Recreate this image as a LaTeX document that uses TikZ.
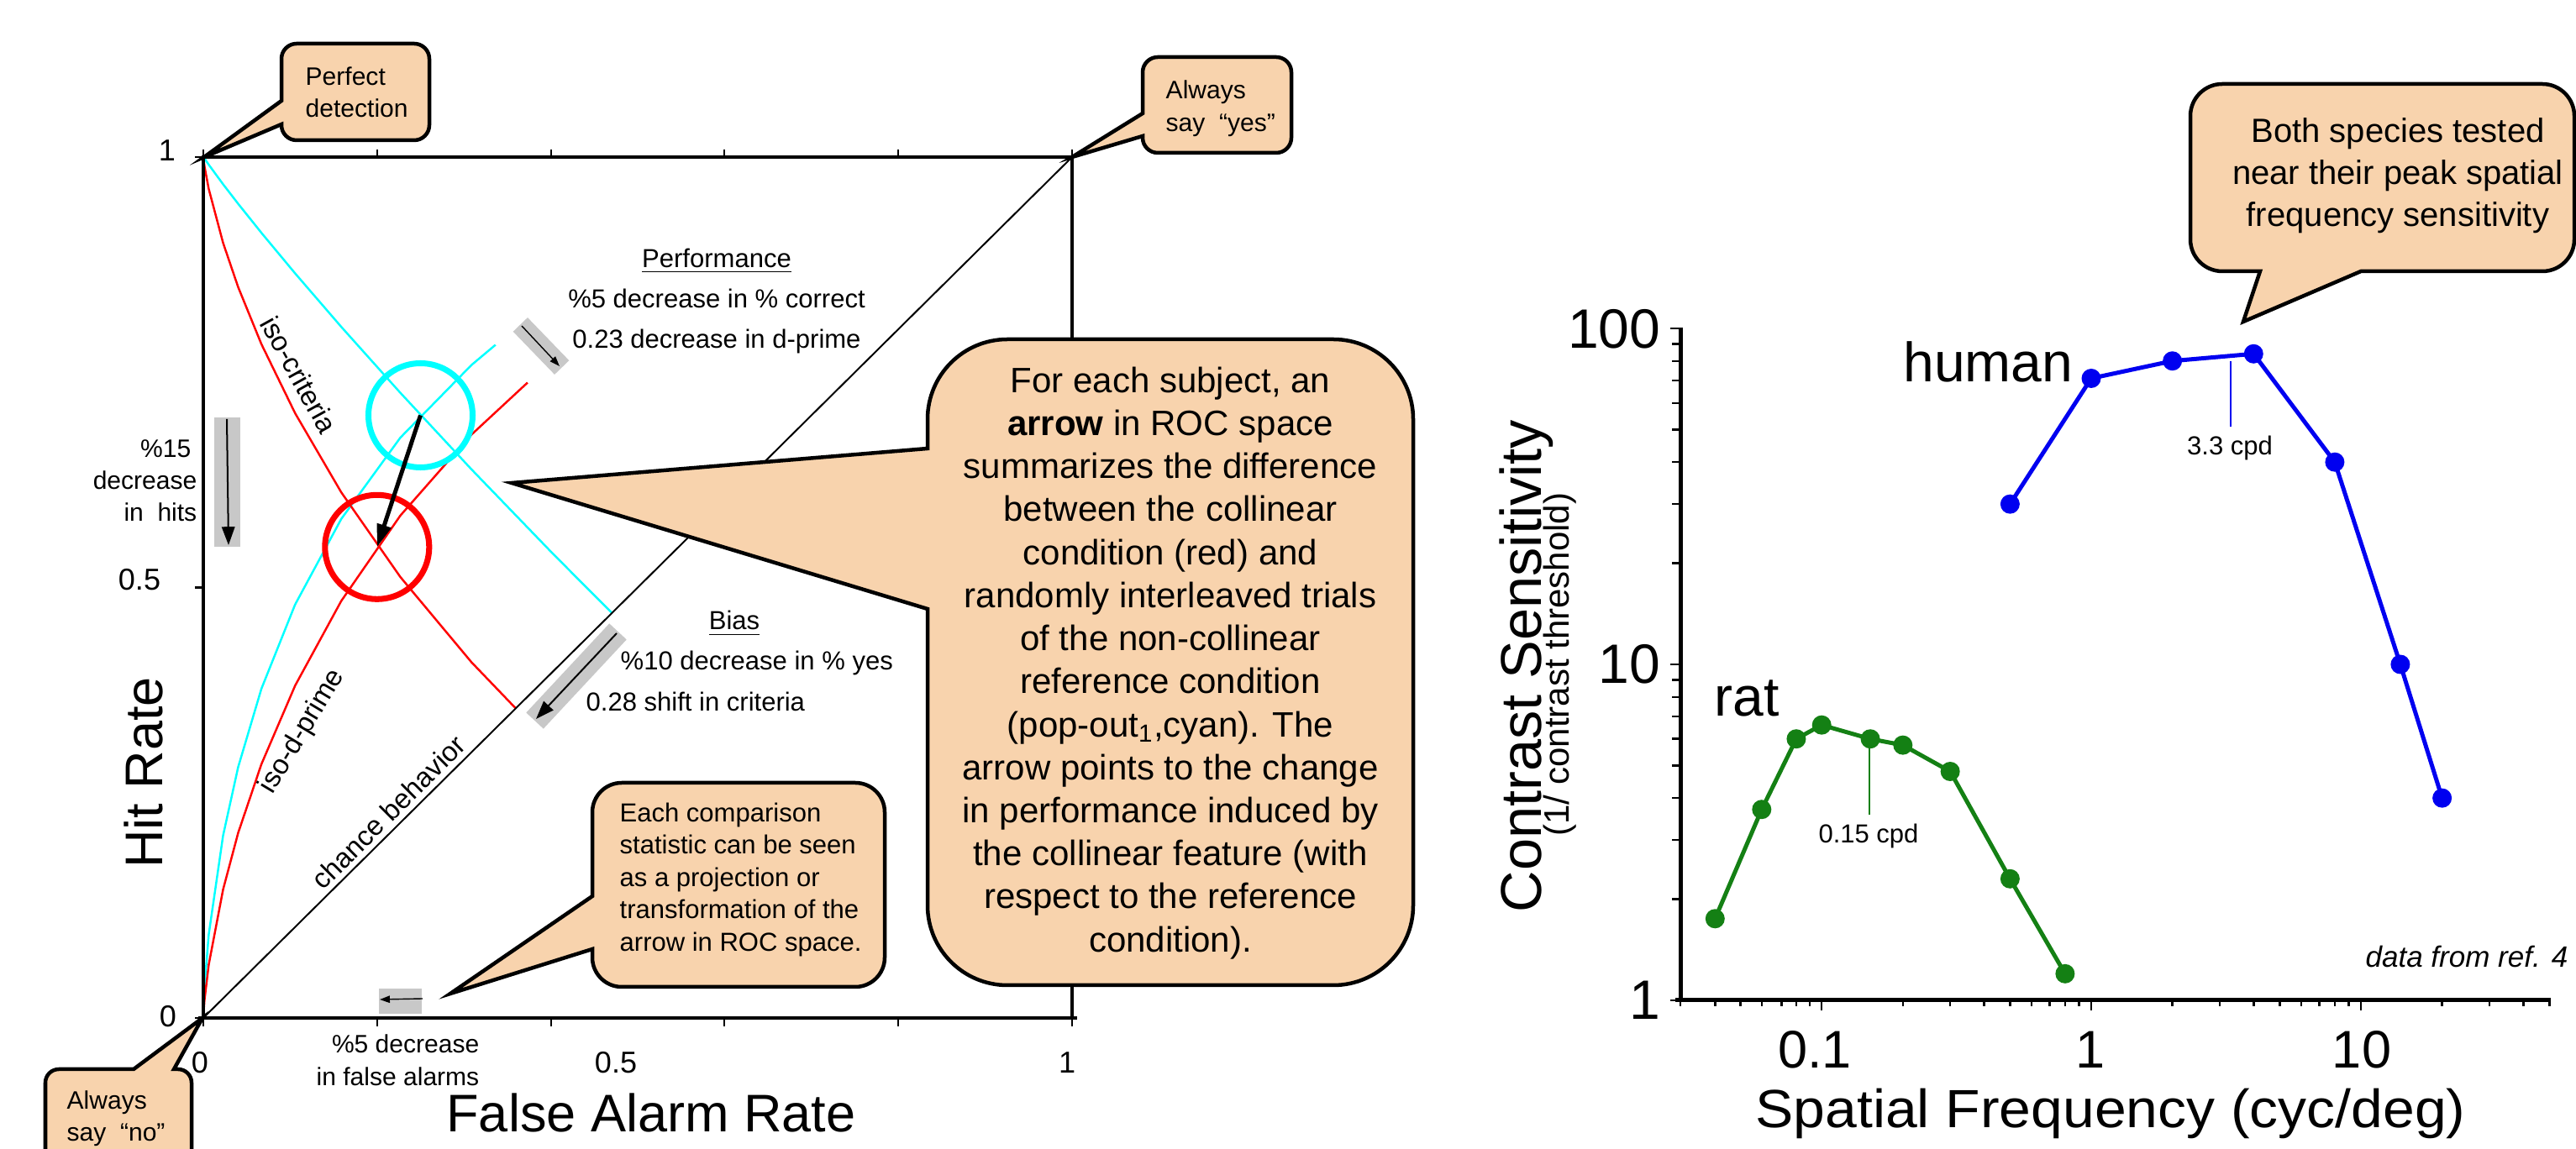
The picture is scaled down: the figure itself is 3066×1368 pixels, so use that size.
\documentclass[tikz,border=0pt]{standalone}
\usepackage{fontspec}
\setmainfont{Liberation Sans}
\usetikzlibrary{arrows.meta}
\definecolor{peach}{RGB}{248,211,173}
\definecolor{boxgray}{RGB}{200,200,200}
\definecolor{ratgreen}{RGB}{20,128,20}
\definecolor{humanblue}{RGB}{0,0,240}
\definecolor{roccyan}{RGB}{0,255,255}
\definecolor{rocred}{RGB}{255,0,0}
\newcommand\fpx[2]{\fontsize{#1pt}{#2pt}\selectfont}
% callout with pointer on the left side
\newcommand\mycalloutL[9]{%
  \filldraw[callout] (#1,#6) -- (#1,{#2+#5})
   .. controls (#1,{#2+0.448*#5}) and ({#1+0.448*#5},#2) .. ({#1+#5},#2)
   -- ({#3-#5},#2)
   .. controls ({#3-0.448*#5},#2) and (#3,{#2+0.448*#5}) .. (#3,{#2+#5})
   -- (#3,{#4-#5})
   .. controls (#3,{#4-0.448*#5}) and ({#3-0.448*#5},#4) .. ({#3-#5},#4)
   -- ({#1+#5},#4)
   .. controls ({#1+0.448*#5},#4) and (#1,{#4-0.448*#5}) .. (#1,{#4-#5})
   -- (#1,#7) -- (#8,#9) -- cycle;}
% callout with pointer on the bottom side
\newcommand\mycalloutB[9]{%
  \filldraw[callout] (#6,#4) -- (#8,#9) -- (#7,#4) -- ({#3-#5},#4)
   .. controls ({#3-0.448*#5},#4) and (#3,{#4-0.448*#5}) .. (#3,{#4-#5})
   -- (#3,{#2+#5})
   .. controls (#3,{#2+0.448*#5}) and ({#3-0.448*#5},#2) .. ({#3-#5},#2)
   -- ({#1+#5},#2)
   .. controls ({#1+0.448*#5},#2) and (#1,{#2+0.448*#5}) .. (#1,{#2+#5})
   -- (#1,{#4-#5})
   .. controls (#1,{#4-0.448*#5}) and ({#1+0.448*#5},#4) .. ({#1+#5},#4)
   -- cycle;}
% callout with pointer on the top side
\newcommand\mycalloutT[9]{%
  \filldraw[callout] (#6,#2) -- (#8,#9) -- (#7,#2) -- ({#3-#5},#2)
   .. controls ({#3-0.448*#5},#2) and (#3,{#2+0.448*#5}) .. (#3,{#2+#5})
   -- (#3,{#4-#5})
   .. controls (#3,{#4-0.448*#5}) and ({#3-0.448*#5},#4) .. ({#3-#5},#4)
   -- ({#1+#5},#4)
   .. controls ({#1+0.448*#5},#4) and (#1,{#4-0.448*#5}) .. (#1,{#4-#5})
   -- (#1,{#2+#5})
   .. controls (#1,{#2+0.448*#5}) and ({#1+0.448*#5},#2) .. ({#1+#5},#2)
   -- cycle;}
\tikzset{
  callout/.style={fill=peach, draw=black, line width=1.28pt, line join=miter},
  rocaxis/.style={line width=1.14pt},
  roctick/.style={line width=0.6pt},
  isoline/.style={line width=0.7pt},
  ring/.style={line width=2pt},
  graybox/.style={fill=boxgray, draw=none, inner sep=0pt, outer sep=0pt},
  smalltxt/.style={font=\fpx{8.82}{10.95}, inner sep=0pt},
  isotxt/.style={font=\fpx{9.39}{11}, inner sep=0pt},
  roclab/.style={font=\fpx{10.24}{12}, inner sep=0pt},
  bigtitle/.style={font=\fpx{17.93}{20}, inner sep=0pt},
  perfarrow/.style={-{Triangle[length=3.4pt,width=2.4pt]}, line width=0.4pt},
  midarrow/.style={-{Triangle[length=6.2pt,width=4.4pt]}, line width=0.57pt},
  bigarrow/.style={-{Triangle[length=7.7pt,width=4.8pt]}, line width=1.42pt},
  csfaxis/.style={line width=1.42pt},
  csftick/.style={line width=0.71pt},
  humanline/.style={humanblue, line width=1.42pt, line join=round},
  ratline/.style={ratgreen, line width=1.42pt, line join=round},
  cpdline/.style={line width=0.35pt},
}
\begin{document}
\begin{tikzpicture}[x=0.01cm, y=-0.01cm]
\useasboundingbox (0,0) rectangle (3066,1368);
\fill[white] (0,0) rectangle (3066,1368);

% ---------------- ROC curves ----------------
\begin{scope}[shift={(242,1212)}, x=10.34cm, y=10.25cm]
 % cyan iso-d-prime
 \draw[isoline, roccyan] plot coordinates {(0,0) (0.00003,0.00256) (0.00023,0.01072) (0.00135,0.03593) (0.00621,0.09680) (0.02275,0.21186) (0.04006,0.29116) (0.06681,0.38209) (0.10565,0.48006) (0.15866,0.57926) (0.22663,0.67364) (0.30854,0.75804) (0.3361,0.7814)};
 % red iso-d-prime
 \draw[isoline, rocred] plot coordinates {(0,0) (0.00003,0.00107) (0.00023,0.00554) (0.00135,0.02068) (0.00621,0.06178) (0.02275,0.14917) (0.04006,0.21476) (0.06681,0.29460) (0.10565,0.38591) (0.15866,0.48405) (0.22663,0.58317) (0.30854,0.67724) (0.3730,0.7376)};
 % cyan iso-criteria
 \draw[isoline, roccyan] plot coordinates {(0,1) (0.00023,0.99960) (0.00135,0.99781) (0.00621,0.99061) (0.02275,0.96784) (0.04006,0.94520) (0.06681,0.91149) (0.10565,0.86433) (0.15866,0.80234) (0.22663,0.72575) (0.30854,0.63683) (0.40129,0.53983) (0.47011,0.47011)};
 % red iso-criteria
 \draw[isoline, rocred] plot coordinates {(0,1) (0.00023,0.99728) (0.00135,0.98870) (0.00621,0.96246) (0.02275,0.89973) (0.04006,0.84849) (0.06681,0.78230) (0.10565,0.70194) (0.15866,0.61026) (0.22663,0.51197) (0.30854,0.41294) (0.35942,0.35942)};
\end{scope}

% ---------------- ROC axes ----------------
\coordinate (O) at (242,1212);
\coordinate (TL) at (242,187);
\coordinate (TR) at (1276,187);
\coordinate (BR) at (1276,1212);
\draw[rocaxis] (O) -- (TL) -- (TR) -- (BR);
\draw[rocaxis] (236,1212) -- (1282,1212);
\foreach \k in {0,...,5} {
  \pgfmathsetmacro\xx{242+206.8*\k}
  \draw[roctick] (\xx,187) -- (\xx,178);
  \draw[roctick] (\xx,1212) -- (\xx,1222);
}
\foreach \yy in {187,699.5,1212} \draw[roctick] (242,\yy) -- (232,\yy);
\draw[line width=0.57pt] (O) -- (TR);

% circles and main arrow
\coordinate (cyc) at (500.5,494.5);
\coordinate (redc) at (448.8,651.3);
\draw[ring, roccyan] (cyc) circle[radius=62];
\draw[ring, rocred] (redc) circle[radius=62];
\draw[bigarrow] (cyc) -- (redc);

% gray boxes with arrows
\node[graybox, minimum width=0.71cm, minimum height=0.24cm, rotate=-46] (perfbox) at (644,412) {};
\coordinate (pa1) at (621,388); \coordinate (pa2) at (666,436);
\draw[perfarrow] (pa1) -- (pa2);
\node[graybox, minimum width=0.31cm, minimum height=1.54cm] (hitbox) at (270.5,574) {};
\coordinate (ha1) at (270,499); \coordinate (ha2) at (272,649);
\draw[midarrow] (ha1) -- (ha2);
\node[graybox, minimum width=1.45cm, minimum height=0.28cm, rotate=47] (biasbox) at (686,805) {};
\coordinate (ba1) at (734,754); \coordinate (ba2) at (638,856);
\draw[midarrow] (ba1) -- (ba2);
\node[graybox, minimum width=0.51cm, minimum height=0.30cm] (fabox) at (476.5,1192) {};
\coordinate (fa1) at (503,1189); \coordinate (fa2) at (452,1190);
\draw[perfarrow] (fa1) -- (fa2);

% ROC texts
\node[roclab] (y1) at (199,179) {1};
\node[roclab] (y05) at (166,690) {0.5};
\node[roclab] (y0) at (200,1210) {0};
\node[roclab] (x0) at (238,1265) {0};
\node[roclab] (x05) at (733,1265) {0.5};
\node[roclab] (x1) at (1270,1265) {1};
\node[bigtitle, anchor=base] (xtitle) at (775,1348) {False Alarm Rate};
\node[bigtitle, anchor=base, rotate=90] (ytitle) at (193,920) {Hit Rate};

\node[smalltxt, font=\fpx{8.82}{13.66}, align=center, anchor=north] (perftxt) at (853,295) {\underline{Performance}\\\%5 decrease in \% correct\\0.23 decrease in d-prime};
\node[smalltxt, anchor=base] (biash) at (874,750) {\underline{Bias}};
\node[smalltxt, anchor=base west] (bias1) at (738,798) {\%10 decrease in \% yes};
\node[smalltxt, anchor=base west] (bias2) at (697,847) {0.28 shift in criteria};
\node[smalltxt, font=\fpx{8.54}{10.8}, align=right, anchor=north east] (hittxt) at (235,523) {\%15\hspace*{0.07cm}\\decrease\\in\ \ hits};
\node[smalltxt, font=\fpx{8.54}{11.1}, align=right, anchor=north east] (fatxt) at (571,1231) {\%5 decrease\\in false alarms};
\node[isotxt, rotate=-61] (isoc) at (356,446) {iso-criteria};
\node[isotxt, rotate=59] (isod) at (360,871) {iso-d-prime};
\node[isotxt, rotate=44.8] (chance) at (462,967) {chance behavior};

% ---------------- callouts (left panel) ----------------
\mycalloutL{335}{52}{511}{167}{18}{120}{148}{243}{187}
\node[smalltxt, font=\fpx{8.54}{10.95}, align=left, anchor=north west] (pdtxt) at (363,79) {Perfect\\detection};
\mycalloutL{1360}{68}{1537}{182}{18}{135}{162}{1276}{187}
\node[smalltxt, font=\fpx{8.54}{11.1}, align=left, anchor=north west] (aytxt) at (1387,95) {Always\\say\ \ “yes”};
\mycalloutT{54}{1273}{228}{1400}{16}{159}{207}{241}{1212}
\node[smalltxt, font=\fpx{8.54}{10.8}, align=left, anchor=north west] (antxt) at (79,1298) {Always\\say\ \ “no”};
\mycalloutL{705}{932}{1053}{1175}{35}{1067}{1130}{536}{1183}
\node[smalltxt, font=\fpx{8.82}{10.95}, align=left, anchor=north west] (ectxt) at (737,955) {Each comparison\\statistic can be seen\\as a projection or\\transformation of the\\arrow in ROC space.};
\mycalloutL{1104}{404}{1682}{1173}{95}{534}{725}{609}{575}
\node[font=\fpx{11.95}{14.57}, align=center, anchor=north, inner sep=0pt] (bctxt) at (1393,436) {For each subject, an\\\textbf{arrow} in ROC space\\summarizes the difference\\between the collinear\\condition (red) and\\randomly interleaved trials\\of the non-collinear\\reference condition\\(pop-out\textsubscript{1},cyan). The\\arrow points to the change\\in performance induced by\\the collinear feature (with\\respect to the reference\\condition).};

% ---------------- CSF plot ----------------
\draw[csfaxis] (2000,390) -- (2000,1191);
\draw[csfaxis] (1994,1191) -- (3036,1191);
\foreach \mm in {1,10} \foreach \kk in {2,...,9} {
  \pgfmathsetmacro\yy{1191-400*log10(\kk*\mm)}
  \draw[csftick] (2000,\yy) -- (1990,\yy);
}
\foreach \yy in {391,791,1191} \draw[csftick] (2000,\yy) -- (1988,\yy);
\foreach \fq in {0.03,0.04,0.05,0.06,0.07,0.08,0.09,0.2,0.3,0.4,0.5,0.6,0.7,0.8,0.9,2,3,4,5,6,7,8,9,20,30,40,50} {
  \pgfmathsetmacro\xx{2489+321*log10(\fq)}
  \draw[csftick] (\xx,1191) -- (\xx,1198);
}
\foreach \fq in {0.1,1,10} {
  \pgfmathsetmacro\xx{2489+321*log10(\fq)}
  \draw[csftick] (\xx,1191) -- (\xx,1203);
}
\node[font=\fpx{18.78}{20}, inner sep=0pt, anchor=east] (l100) at (1977,392) {100};
\node[font=\fpx{18.78}{20}, inner sep=0pt, anchor=east] (l10) at (1977,791) {10};
\node[font=\fpx{18.78}{20}, inner sep=0pt, anchor=east] (l1) at (1977,1191) {1};
\node[font=\fpx{17.93}{20}, inner sep=0pt] (lx01) at (2160,1250) {0.1};
\node[font=\fpx{17.93}{20}, inner sep=0pt] (lx1) at (2488,1250) {1};
\node[font=\fpx{17.93}{20}, inner sep=0pt] (lx10) at (2811,1250) {10};
\node[font=\fpx{18.21}{20}, inner sep=0pt, anchor=base, xscale=1.06] (csfx) at (2512,1343) {Spatial Frequency (cyc/deg)};
\node[font=\fpx{19.49}{21}, inner sep=0pt, anchor=base, rotate=90] (csfy) at (1834,793) {Contrast Sensitivity};
\node[font=\fpx{11.95}{13}, inner sep=0pt, anchor=base, rotate=90] (csfy2) at (1867,791) {(1/ contrast threshold)};

\foreach \nm/\fq/\sv in {h1/0.5/30, h2/1/71, h3/2/80, h4/4/84, h5/8/40, h6/14/10, h7/20/4}
  \coordinate (\nm) at ({2489+321*log10(\fq)},{1191-400*log10(\sv)});
\foreach \nm/\fq/\sv in {r1/0.04/1.75, r2/0.06/3.7, r3/0.08/6.0, r4/0.1/6.6, r5/0.15/6.0, r6/0.2/5.75, r7/0.3/4.8, r8/0.5/2.3, r9/0.8/1.2}
  \coordinate (\nm) at ({2489+321*log10(\fq)},{1191-400*log10(\sv)});
\draw[humanline] (h1) -- (h2) -- (h3) -- (h4) -- (h5) -- (h6) -- (h7);
\foreach \nm in {h1,h2,h3,h4,h5,h6,h7} \fill[humanblue] (\nm) circle[radius=11.5];
\draw[ratline] (r1) -- (r2) -- (r3) -- (r4) -- (r5) -- (r6) -- (r7) -- (r8) -- (r9);
\foreach \nm in {r1,r2,r3,r4,r5,r6,r7,r8,r9} \fill[ratgreen] (\nm) circle[radius=11.5];

\coordinate (cpdh1) at (2655,430); \coordinate (cpdh2) at (2655,508);
\draw[cpdline, humanblue] (cpdh1) -- (cpdh2);
\coordinate (cpdr1) at (2225,887); \coordinate (cpdr2) at (2225,970);
\draw[cpdline, ratgreen] (cpdr1) -- (cpdr2);
\node[font=\fpx{8.82}{10}, inner sep=0pt, anchor=base] (cpdh) at (2654,542) {3.3 cpd};
\node[font=\fpx{8.82}{10}, inner sep=0pt, anchor=base] (cpdr) at (2224,1004) {0.15 cpd};
\node[font=\fpx{18.78}{20}, inner sep=0pt, anchor=base east] (human) at (2468,455) {human};
\node[font=\fpx{18.78}{20}, inner sep=0pt, anchor=base west] (rat) at (2040,853) {rat};
\node[font=\fpx{9.96}{11}\itshape, inner sep=0pt, anchor=base east] (dataref) at (3057,1152) {data from ref. 4};

\mycalloutB{2607}{100}{3064}{323}{38}{2690}{2810}{2670}{383}
\node[font=\fpx{11.38}{14.23}, align=center, anchor=north, inner sep=0pt] (bstxt) at (2854,140) {Both species tested\\near their peak spatial\\frequency sensitivity};
\end{tikzpicture}
\end{document}
